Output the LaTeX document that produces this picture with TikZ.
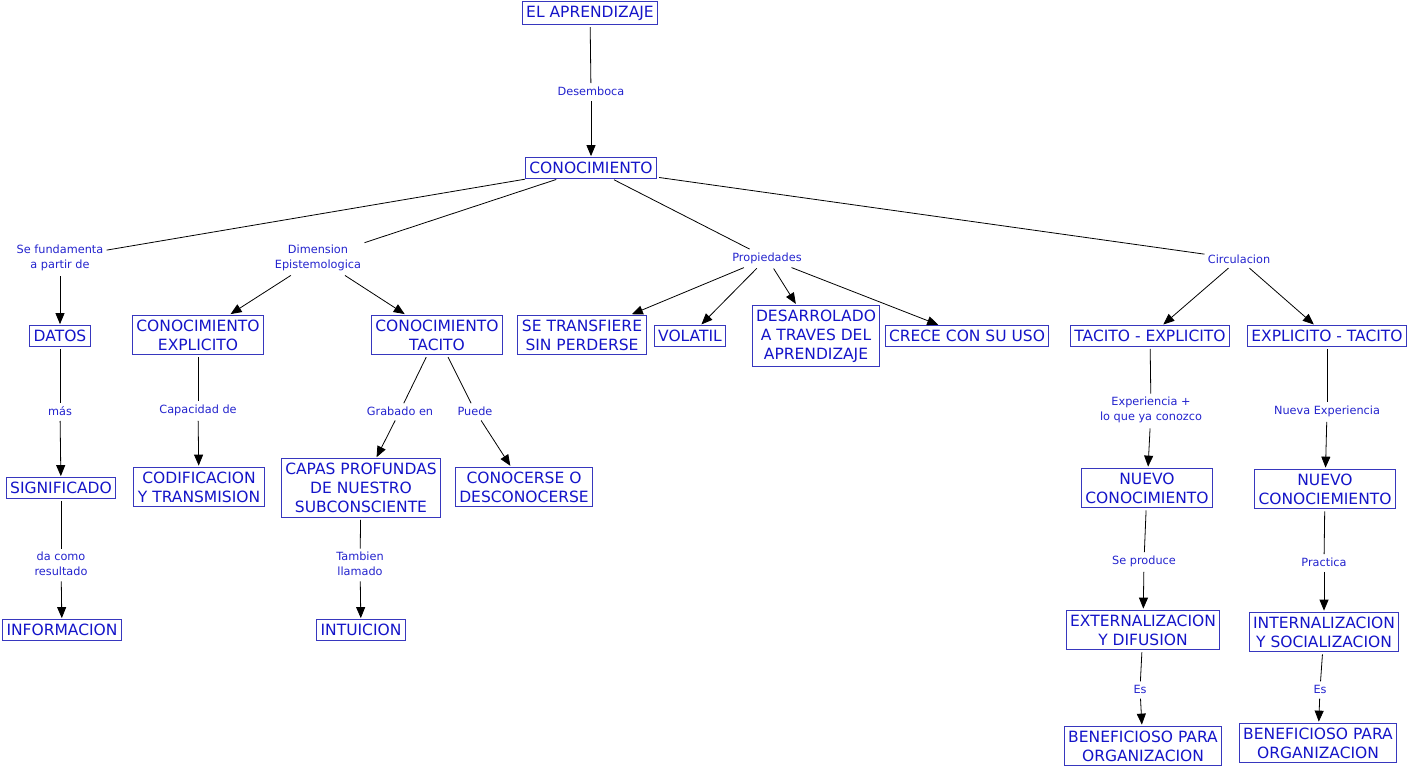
\documentclass[tikz,border=0pt]{standalone}
\usepackage{fontspec}
\setmainfont{DejaVu Sans}
\usetikzlibrary{arrows.meta}
\definecolor{cmapblue}{RGB}{20,20,200}
\definecolor{cmapline}{RGB}{55,55,190}
\definecolor{linkblue}{RGB}{35,35,205}
\begin{document}
\begin{tikzpicture}[x=1pt,y=-1pt,line width=0.8pt,
  concept node/.style={draw=cmapline,line width=1pt,text=cmapblue,align=center,font=\fontsize{15.5}{19}\selectfont,inner xsep=4pt,inner ysep=4.5pt},
  link node/.style={text=linkblue,align=center,font=\fontsize{11.3}{15}\selectfont,inner sep=3pt},
  linkline/.style={shorten <=2pt},
  linkarrow/.style={-{Triangle[length=11pt,width=9pt]},shorten <=2pt,shorten >=1pt}]
\useasboundingbox (0,0) rectangle (1413,767);

\node[concept node] (apr) at (590,13) {EL APRENDIZAJE};
\node[concept node] (conoc) at (591,168) {CONOCIMIENTO};
\node[link node] (desemb) at (591,91) {Desemboca};

\node[link node] (sefund) at (60,258) {Se fundamenta\\a partir de};
\node[link node] (dimen) at (318,258) {Dimension\\Epistemologica};
\node[link node] (prop) at (767,258) {Propiedades};
\node[link node] (circ) at (1239,259) {Circulacion};

\node[concept node] (datos) at (60,336) {DATOS};
\node[concept node] (cexp) at (198,335) {CONOCIMIENTO\\EXPLICITO};
\node[concept node] (ctac) at (437,335) {CONOCIMIENTO\\TACITO};
\node[concept node] (setrans) at (582,335) {SE TRANSFIERE\\SIN PERDERSE};
\node[concept node] (volatil) at (690,336) {VOLATIL};
\node[concept node] (desarr) at (816,336) {DESARROLADO\\A TRAVES DEL\\APRENDIZAJE};
\node[concept node] (crece) at (967,336) {CRECE CON SU USO};
\node[concept node] (tacexp) at (1150,336) {TACITO - EXPLICITO};
\node[concept node] (exptac) at (1327,336) {EXPLICITO - TACITO};

\node[link node] (mas) at (60,411) {más};
\node[link node] (capac) at (198,410) {Capacidad de};
\node[link node] (grab) at (400,411) {Grabado en};
\node[link node] (puede) at (475,411) {Puede};
\node[link node] (exper) at (1151,410) {Experiencia +\\lo que ya conozco};
\node[link node] (nuevaexp) at (1327,411) {Nueva Experiencia};

\node[concept node] (signif) at (61,488) {SIGNIFICADO};
\node[concept node] (codif) at (199,487) {CODIFICACION\\Y TRANSMISION};
\node[concept node] (capas) at (361,488) {CAPAS PROFUNDAS\\DE NUESTRO\\SUBCONSCIENTE};
\node[concept node] (conocerse) at (524,487) {CONOCERSE O\\DESCONOCERSE};
\node[concept node] (nuevo1) at (1147,488) {NUEVO\\CONOCIMIENTO};
\node[concept node] (nuevo2) at (1325,489) {NUEVO\\CONOCIEMIENTO};

\node[link node] (dacomo) at (61,564) {da como\\resultado};
\node[link node] (tamb) at (360,564) {Tambien\\llamado};
\node[link node] (seprod) at (1144,561) {Se produce};
\node[link node] (pract) at (1324,562) {Practica};

\node[concept node] (info) at (62,630) {INFORMACION};
\node[concept node] (intu) at (361,630) {INTUICION};
\node[concept node] (extern) at (1143,630) {EXTERNALIZACION\\Y DIFUSION};
\node[concept node] (intern) at (1324,632) {INTERNALIZACION\\Y SOCIALIZACION};

\node[link node] (es1) at (1140,689) {Es};
\node[link node] (es2) at (1320,689) {Es};

\node[concept node] (benef1) at (1143,746) {BENEFICIOSO PARA\\ORGANIZACION};
\node[concept node] (benef2) at (1318,743) {BENEFICIOSO PARA\\ORGANIZACION};

% lineas sin flecha
\draw[linkline] (apr) -- (desemb);
\draw[linkline] (conoc) -- (sefund);
\draw[linkline] (conoc) -- (dimen);
\draw[linkline] (conoc) -- (prop);
\draw[linkline] (conoc) -- (circ);
\draw[linkline] (datos) -- (mas);
\draw[linkline] (signif) -- (dacomo);
\draw[linkline] (cexp) -- (capac);
\draw[linkline] (ctac) -- (grab);
\draw[linkline] (ctac) -- (puede);
\draw[linkline] (capas) -- (tamb);
\draw[linkline] (tacexp) -- (exper);
\draw[linkline] (nuevo1) -- (seprod);
\draw[linkline] (extern) -- (es1);
\draw[linkline] (exptac) -- (nuevaexp);
\draw[linkline] (nuevo2) -- (pract);
\draw[linkline] (intern) -- (es2);

% flechas
\draw[linkarrow] (desemb) -- (conoc);
\draw[linkarrow] (sefund) -- (datos);
\draw[linkarrow] (dimen) -- (cexp);
\draw[linkarrow] (dimen) -- (ctac);
\draw[linkarrow] (prop) -- (setrans);
\draw[linkarrow] (prop) -- (volatil);
\draw[linkarrow] (prop) -- (desarr);
\draw[linkarrow] (prop) -- (crece);
\draw[linkarrow] (circ) -- (tacexp);
\draw[linkarrow] (circ) -- (exptac);
\draw[linkarrow] (mas) -- (signif);
\draw[linkarrow] (dacomo) -- (info);
\draw[linkarrow] (capac) -- (codif);
\draw[linkarrow] (grab) -- (capas);
\draw[linkarrow] (puede) -- (conocerse);
\draw[linkarrow] (tamb) -- (intu);
\draw[linkarrow] (exper) -- (nuevo1);
\draw[linkarrow] (seprod) -- (extern);
\draw[linkarrow] (es1) -- (benef1);
\draw[linkarrow] (nuevaexp) -- (nuevo2);
\draw[linkarrow] (pract) -- (intern);
\draw[linkarrow] (es2) -- (benef2);
\end{tikzpicture}
\end{document}
